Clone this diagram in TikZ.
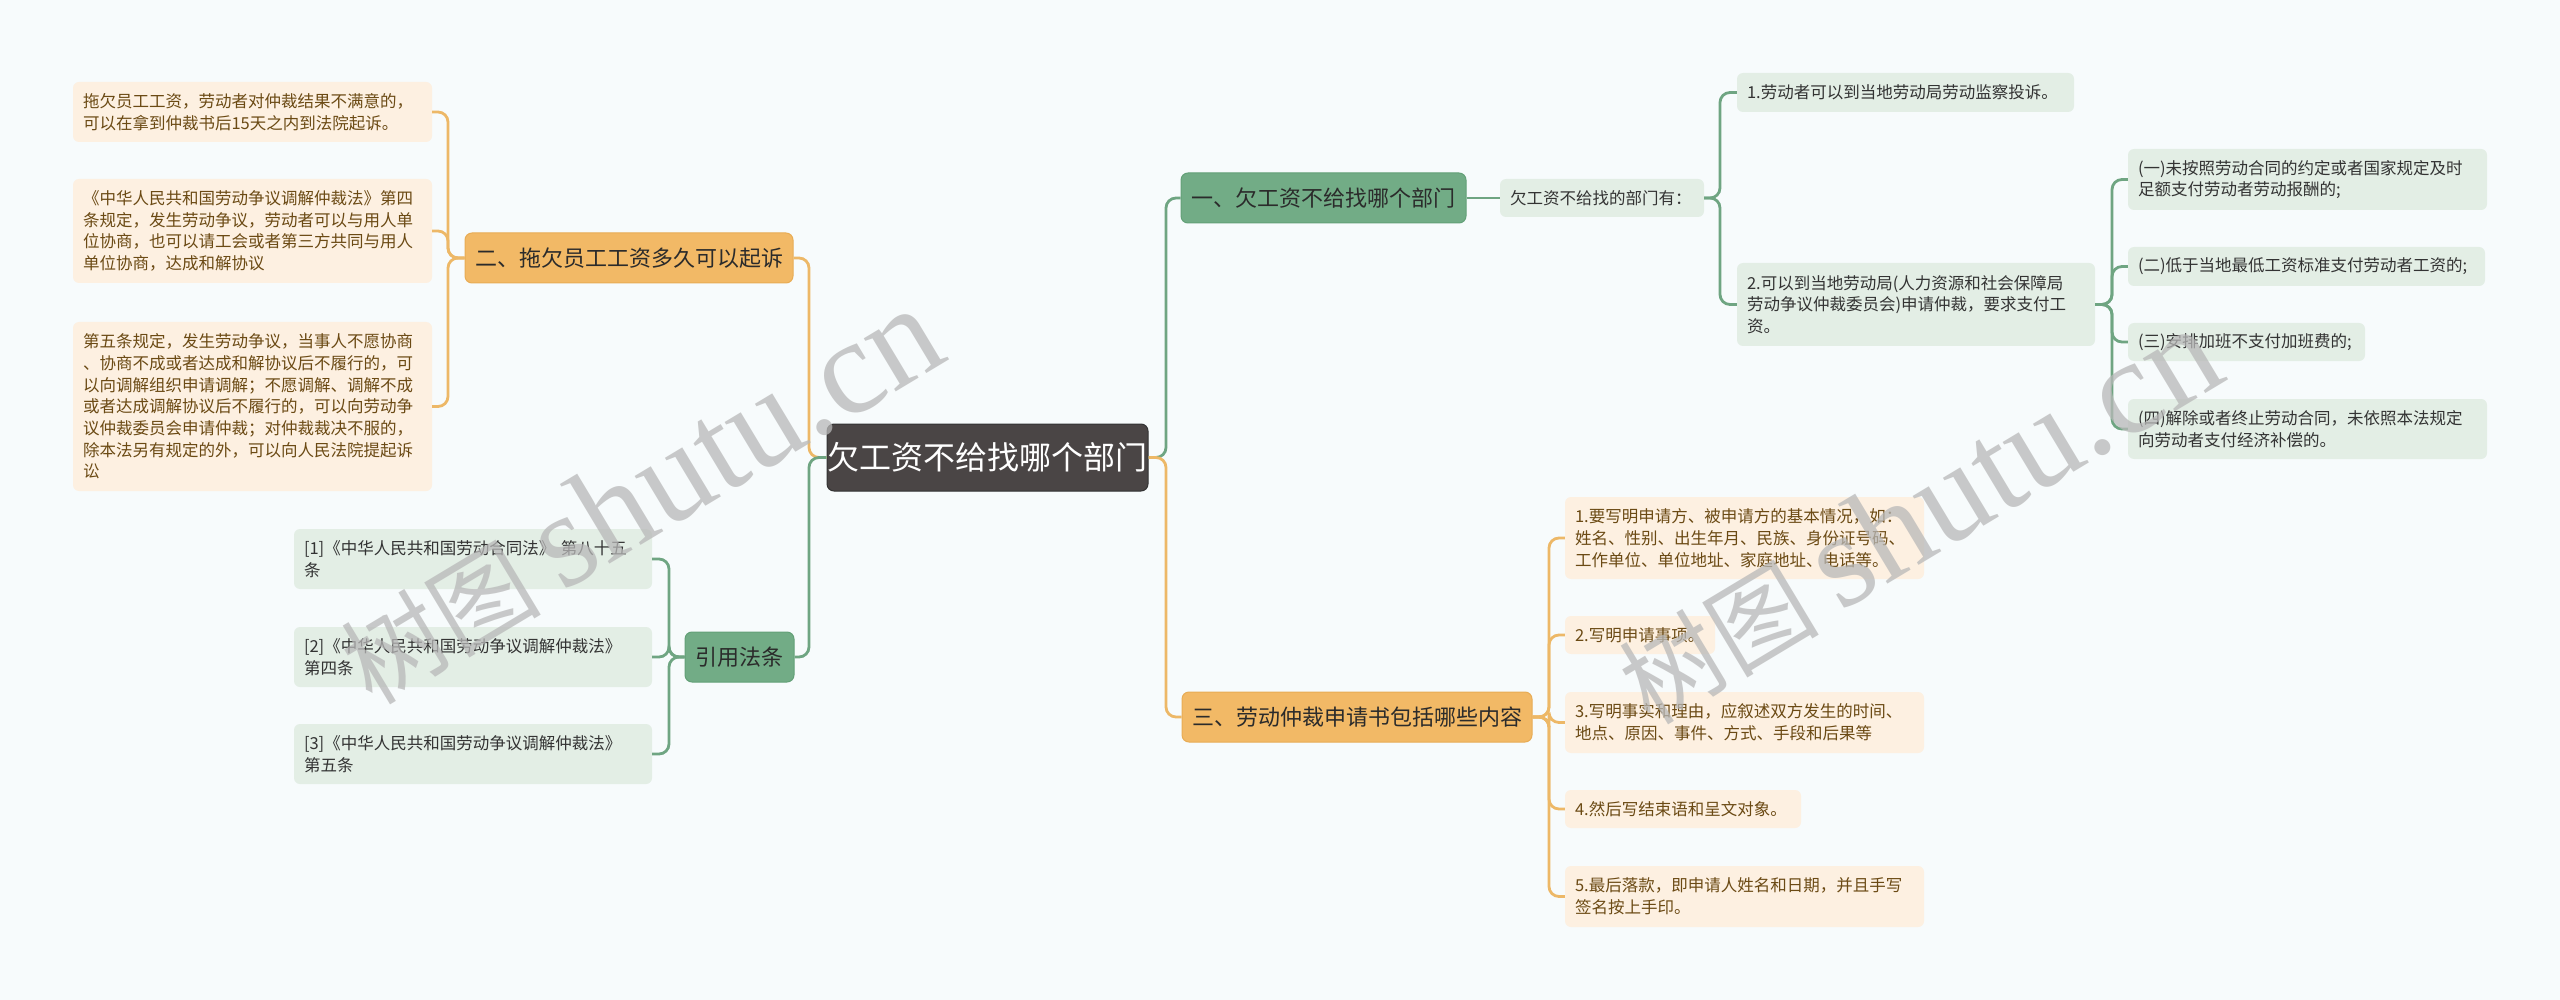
\documentclass[tikz,border=0pt]{standalone}
\usepackage{fontspec}
\setmainfont{Noto Sans CJK SC}
\newfontfamily\wmlatin{Liberation Serif}
\definecolor{bg}{HTML}{F7FBFC}
\definecolor{gl}{HTML}{6FA582}
\definecolor{ol}{HTML}{EDB867}
\definecolor{gbr}{HTML}{72AC86}
\definecolor{gbrd}{HTML}{63A077}
\definecolor{obr}{HTML}{F2B966}
\definecolor{obrd}{HTML}{E8AC55}
\definecolor{gleaffill}{HTML}{E3EEE5}
\definecolor{oleaffill}{HTML}{FDF0E1}
\definecolor{gleaftext}{HTML}{333333}
\definecolor{oleaftext}{HTML}{6B4A14}
\definecolor{brtext}{HTML}{2B2B2B}
\definecolor{cenfill}{HTML}{4A4545}
\definecolor{wm}{HTML}{B8B8B8}
\tikzset{
  base/.style={rounded corners=6pt, inner xsep=10pt, inner ysep=2pt, align=left, anchor=center},
  gleaf/.style={base, fill=gleaffill, text=gleaftext, font=\fontsize{16.5}{21.7}\selectfont},
  oleaf/.style={base, fill=oleaffill, text=oleaftext, font=\fontsize{16.5}{21.7}\selectfont},
  gbranch/.style={fill=gbr, draw=gbrd, line width=1pt, rounded corners=7pt, inner sep=0pt, text=brtext, font=\fontsize{22}{26}\selectfont},
  obranch/.style={fill=obr, draw=obrd, line width=1pt, rounded corners=7pt, inner sep=0pt, text=brtext, font=\fontsize{22}{26}\selectfont},
  central/.style={fill=cenfill, draw=black!80, line width=1pt, rounded corners=7pt, inner sep=0pt, text=white, font=\fontsize{32}{36}\selectfont},
  gline/.style={draw=gl, line width=2.8pt, rounded corners=10pt},
  oline/.style={draw=ol, line width=2.8pt, rounded corners=10pt},
  wmark/.style={text=wm, opacity=0.75, rotate=31, inner sep=0pt}
}
\begin{document}
\begin{tikzpicture}[x=1pt,y=-1pt]
\fill[bg] (0,0) rectangle (2560,1000);
\useasboundingbox (0,0) rectangle (2560,1000);

% central
\node[central, minimum width=321pt, minimum height=67pt] (cen) at (987.5,457.5) {欠工资不给找哪个部门};

% left branches
\node[obranch, minimum width=328pt, minimum height=50pt] (two) at (629,258) {二、拖欠员工工资多久可以起诉};
\node[gbranch, minimum width=109pt, minimum height=50pt] (cite) at (739.5,657) {引用法条};

\node[oleaf, text width=339pt, minimum height=60pt] (L1) at (252.5,112) {拖欠员工工资，劳动者对仲裁结果不满意的，\\可以在拿到仲裁书后15天之内到法院起诉。};
\node[oleaf, text width=339pt, minimum height=104pt] (L2) at (252.5,231) {《中华人民共和国劳动争议调解仲裁法》第四\\条规定，发生劳动争议，劳动者可以与用人单\\位协商，也可以请工会或者第三方共同与用人\\单位协商，达成和解协议};
\node[oleaf, text width=339pt, minimum height=169pt] (L3) at (252.5,406.5) {第五条规定，发生劳动争议，当事人不愿协商\\、协商不成或者达成和解协议后不履行的，可\\以向调解组织申请调解；不愿调解、调解不成\\或者达成调解协议后不履行的，可以向劳动争\\议仲裁委员会申请仲裁；对仲裁裁决不服的，\\除本法另有规定的外，可以向人民法院提起诉\\讼};

\node[gleaf, text width=338pt, minimum height=60pt] (R1) at (473,559) {[1]《中华人民共和国劳动合同法》 第八十五\\条};
\node[gleaf, text width=338pt, minimum height=60pt] (R2) at (473,657) {[2]《中华人民共和国劳动争议调解仲裁法》\\第四条};
\node[gleaf, text width=338pt, minimum height=60pt] (R3) at (473,754) {[3]《中华人民共和国劳动争议调解仲裁法》\\第五条};

% right branches
\node[gbranch, minimum width=285pt, minimum height=50pt] (one) at (1323.5,198) {一、欠工资不给找哪个部门};
\node[obranch, minimum width=350pt, minimum height=50pt] (three) at (1357,717) {三、劳动仲裁申请书包括哪些内容};

\node[gleaf, text width=184pt, minimum height=38pt] (dept) at (1602,198) {欠工资不给找的部门有：};
\node[gleaf, text width=317pt, minimum height=39pt] (A1) at (1905.5,92.5) {1.劳动者可以到当地劳动局劳动监察投诉。};
\node[gleaf, text width=338pt, minimum height=83pt] (A2) at (1916,304.5) {2.可以到当地劳动局(人力资源和社会保障局\\劳动争议仲裁委员会)申请仲裁，要求支付工\\资。};

\node[gleaf, text width=339pt, minimum height=61pt] (S1) at (2307.5,179.5) {(一)未按照劳动合同的约定或者国家规定及时\\足额支付劳动者劳动报酬的;};
\node[gleaf, text width=337pt, minimum height=39pt] (S2) at (2306.5,266.5) {(二)低于当地最低工资标准支付劳动者工资的;};
\node[gleaf, text width=217pt, minimum height=38pt] (S3) at (2246.5,342) {(三)安排加班不支付加班费的;};
\node[gleaf, text width=339pt, minimum height=60pt] (S4) at (2307.5,429) {(四)解除或者终止劳动合同，未依照本法规定\\向劳动者支付经济补偿的。};

\node[oleaf, text width=339pt, minimum height=82pt] (T1) at (1744.5,538) {1.要写明申请方、被申请方的基本情况，如：\\姓名、性别、出生年月、民族、身份证号码、\\工作单位、单位地址、家庭地址、电话等。};
\node[oleaf, text width=130pt, minimum height=38pt] (T2) at (1640,635) {2.写明申请事项。};
\node[oleaf, text width=339pt, minimum height=61pt] (T3) at (1744.5,722.5) {3.写明事实和理由，应叙述双方发生的时间、\\地点、原因、事件、方式、手段和后果等};
\node[oleaf, text width=216pt, minimum height=38pt] (T4) at (1683,809) {4.然后写结束语和呈文对象。};
\node[oleaf, text width=339pt, minimum height=61pt] (T5) at (1744.5,896.5) {5.最后落款，即申请人姓名和日期，并且手写\\签名按上手印。};

% junction coordinates
\coordinate (jcl) at (809,457.5);
\coordinate (jcr) at (1166,457.5);
\coordinate (jtwo) at (448,258);
\coordinate (jcite) at (669,657);
\coordinate (jdept) at (1720,198);
\coordinate (jA2) at (2112,304.5);
\coordinate (jthree) at (1549,717);

% connectors
\draw[oline] (cen.west) -- (jcl) |- (two.east);
\draw[gline] (cen.west) -- (jcl) |- (cite.east);
\draw[gline] (cen.east) -- (jcr) |- (one.west);
\draw[oline] (cen.east) -- (jcr) |- (three.west);

\foreach \n in {L1,L2,L3} \draw[oline] (two.west) -- (jtwo) |- (\n.east);
\foreach \n in {R1,R2,R3} \draw[gline] (cite.west) -- (jcite) |- (\n.east);
\draw[gline] (one.east) -- (dept.west);
\foreach \n in {A1,A2} \draw[gline] (dept.east) -- (jdept) |- (\n.west);
\foreach \n in {S1,S2,S3,S4} \draw[gline] (A2.east) -- (jA2) |- (\n.west);
\foreach \n in {T1,T2,T3,T4,T5} \draw[oline] (three.east) -- (jthree) |- (\n.west);

% watermarks
\node[wmark] (wm1) at (640,496) {\fontsize{100}{110}\selectfont 树图 {\wmlatin\fontsize{135}{140}\selectfont shutu.cn}};
\node[wmark] (wm2) at (1918,516) {\fontsize{100}{110}\selectfont 树图 {\wmlatin\fontsize{135}{140}\selectfont shutu.cn}};
\end{tikzpicture}
\end{document}
